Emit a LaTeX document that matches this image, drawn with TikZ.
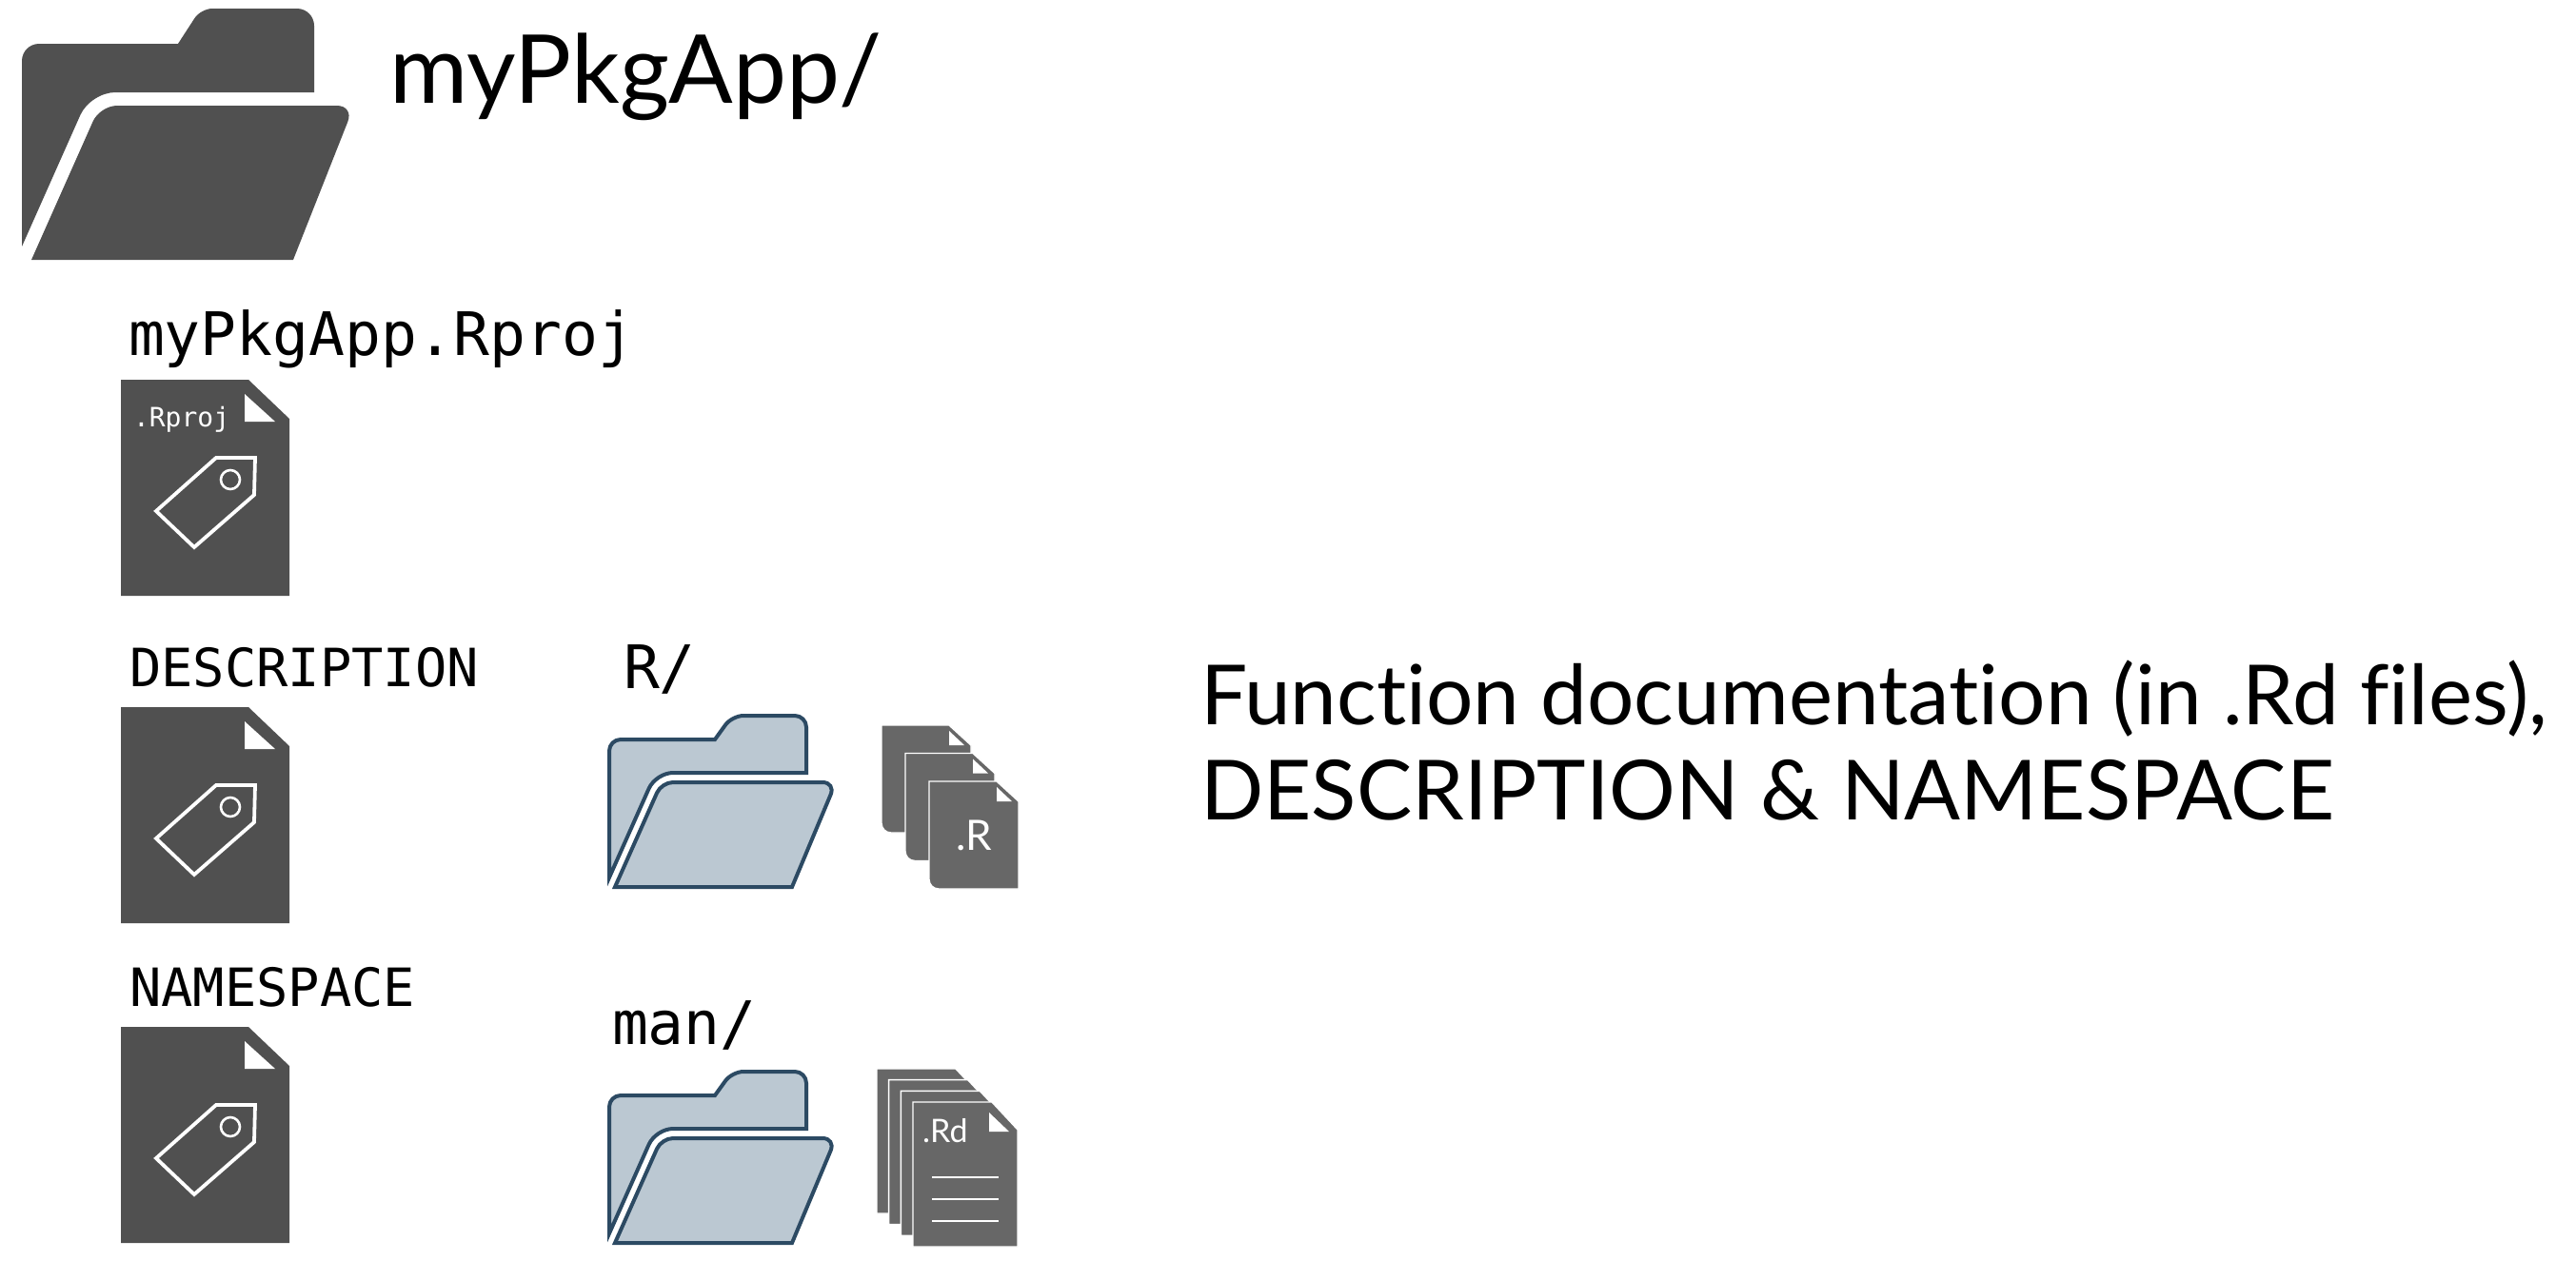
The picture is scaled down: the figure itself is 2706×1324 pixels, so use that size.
\documentclass[tikz,border=0pt]{standalone}
\usepackage{fontspec}
\setmainfont{Lato}[Ligatures=NoCommon]
\setmonofont{DejaVu Sans Mono}
\usepackage{tikz}
\usetikzlibrary{positioning}
\definecolor{darkicon}{HTML}{505050}
\definecolor{greydoc}{HTML}{676767}
\definecolor{folderline}{HTML}{2C4A63}
\definecolor{folderfill}{HTML}{BBC8D2}

\begin{document}
\begin{tikzpicture}
		[x=0.5pt,y=-0.5pt,
		every node/.style={inner sep=0,outer sep=0,anchor=base west}
		]
		
		% Styles for the text and the icons
		\tikzstyle{big label}=[font=\fontsize{50}{50}\selectfont];
		\tikzstyle{note label}=[font=\fontsize{43.6}{50}\selectfont,align=left];
		\tikzstyle{mono label}=[font=\ttfamily\fontsize{31.5}{31.5}\selectfont];
		\tikzstyle{mono small}=[font=\ttfamily\fontsize{27.7}{27.7}\selectfont];
		\tikzstyle{file text}=[font=\ttfamily\fontsize{14}{14}\selectfont,text=white];
		\tikzstyle{doc text}=[text=white];
		\tikzstyle{folder part}=[draw=folderline,fill=folderfill,line width=2pt];
		\tikzstyle{doc sheet}=[fill=greydoc,draw=white,line width=0.7pt];
		
		\useasboundingbox (0,0) rectangle (2706,1324);
		
		% The big folder
		\fill[darkicon] (23,259) [rounded corners=9pt] -- (23,46) [sharp corners] -- (187,46) [rounded corners=6pt] -- (211,9) [rounded corners=9pt] -- (330,9) [sharp corners] -- (330,97) [rounded corners=13pt] -- (95,97) [sharp corners] -- cycle;
		\fill[darkicon] (33,273) [rounded corners=9pt] -- (105,111) -- (372,111) [sharp corners] -- (308,273) -- cycle;
		
		% Labels
		\node[big label] (title) at (409,108) {myPkgApp/};
		\node[mono label] (rproj) at (135,373) {myPkgApp.Rproj};
		\node[mono small] (description) at (136,721) {DESCRIPTION};
		\node[mono small] (namespace) at (136,1057) {NAMESPACE};
		\node[mono label] (rdir) at (655,723) {R/};
		\node[mono label] (mandir) at (643,1097) {man/};
		\node[note label] (note) at (1261,761) {Function documentation (in .Rd files),};
		\node[note label] (notetwo) at (1261,861) {DESCRIPTION \& NAMESPACE};
		
		% The three tag files
		\foreach \y in {0,344,680} {
			\begin{scope}[yshift=-0.5*\y pt]
				\fill[darkicon] (127,399) -- (261,399) -- (304,440) -- (304,626) -- (127,626) -- cycle;
				\fill[white] (257,414) -- (257,443) -- (289,443) -- cycle;
				\draw[white,line width=1.9pt] (227,481) -- (268,481) -- (267,520) -- (204,575) -- (164,537) -- cycle;
				\draw[white,line width=1.3pt] (242,504) circle (5pt);
			\end{scope}
		}
		\node[file text] (rprojtag) at (140,448) {.Rproj};
		
		% The two blue folders
		\foreach \y in {0,374} {
			\begin{scope}[yshift=-0.5*\y pt]
				\draw[folder part] (640,922) [rounded corners=6pt] -- (640,777) [sharp corners] -- (751,777) [rounded corners=6pt] -- (769,752) -- (847,752) [sharp corners] -- (847,812) [rounded corners=9pt] -- (689,812) [sharp corners] -- cycle;
				\draw[folder part] (646,932) [rounded corners=6pt] -- (695,822) [rounded corners=7pt] -- (878,822) [sharp corners] -- (832,932) -- cycle;
			\end{scope}
		}
		
		% The .R sheets
		\foreach \i in {0,1,2} {
			\begin{scope}[xshift=12.5*\i pt,yshift=-14.75*\i pt]
				\draw[doc sheet] (997,762) -- (1020,783) -- (1020,875) [rounded corners=5pt] -- (926,875) [sharp corners] -- (926,762) -- cycle;
				\fill[white] (997,768) -- (997,783) -- (1013,783) -- cycle;
			\end{scope}
		}
		\node[doc text,font=\fontsize{22}{22}\selectfont] (rext) at (1004,893) {.R};
		
		% The .Rd sheets
		\foreach \i in {0,1,2,3} {
			\draw[doc sheet] (921+12.67*\i,1123+11.67*\i) -- (1004+12.67*\i,1123+11.67*\i) -- (1031+12.67*\i,1152+11.67*\i) -- (1031+12.67*\i,1275+11.67*\i) -- (921+12.67*\i,1275+11.67*\i) -- cycle;
		}
		\fill[white] (1039,1169) -- (1039,1189) -- (1060,1189) -- cycle;
		\node[doc text,font=\fontsize{17}{17}\selectfont] (rdext) at (969,1200) {.Rd};
		\foreach \y in {1237,1260,1283} \draw[white,line width=1.2pt] (979,\y) -- (1049,\y);
		
\end{tikzpicture}
\end{document}
